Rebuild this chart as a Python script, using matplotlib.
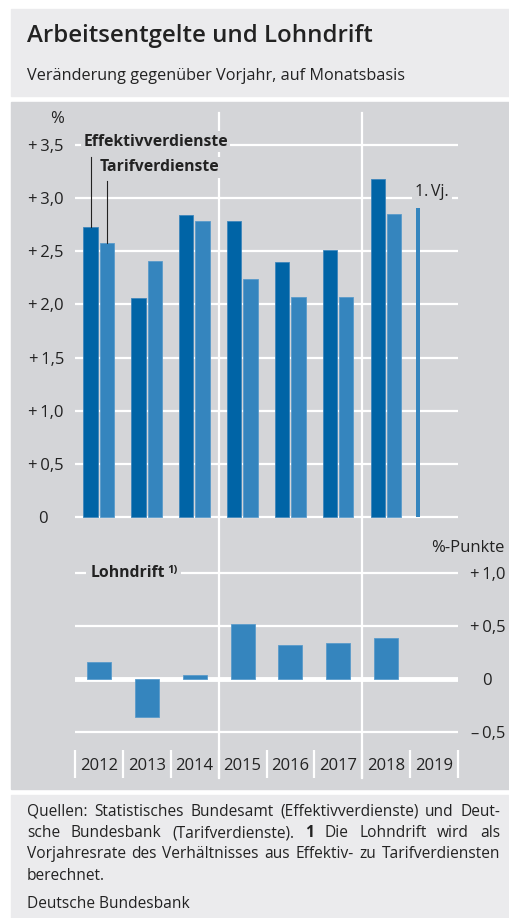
import numpy as np
import matplotlib
matplotlib.use('Agg')
import matplotlib.pyplot as plt
from matplotlib.patches import Rectangle
from matplotlib.lines import Line2D
from matplotlib import transforms

plt.rcParams['font.family'] = ['Open Sans', 'DejaVu Sans']

# Data
years = ['2012', '2013', '2014', '2015', '2016', '2017', '2018', '2019']
effektiv = [2.73, 2.06, 2.84, 2.78, 2.40, 2.51, 3.18]
tarif = [2.58, 2.41, 2.78, 2.24, 2.07, 2.07, 2.85]
tarif_2019_q1 = 2.91
lohndrift = [0.16, -0.35, 0.04, 0.52, 0.32, 0.34, 0.39]

upper_ticks = [0, 0.5, 1.0, 1.5, 2.0, 2.5, 3.0, 3.5]
upper_labels = ['0', '+\u20090,5', '+\u20091,0', '+\u20091,5', '+\u20092,0', '+\u20092,5', '+\u20093,0', '+\u20093,5']
lower_ticks = [-0.5, 0, 0.5, 1.0]
lower_labels = ['\u2013\u20090,5', '0', '+\u20090,5', '+\u20091,0']

c_eff = '#0064a6'
c_tar = '#3585be'
panel = '#d4d5d8'
light = '#ebebed'
text_c = '#222222'

W, H = 510, 918
fig = plt.figure(figsize=(W / 100, H / 100), dpi=100)
fig.patch.set_facecolor('white')


def fx(x):
    return x / W


def fy(y):
    return 1 - y / H


# background panels
fig.patches.append(Rectangle((fx(11), fy(96)), fx(W) - fx(11), fy(9) - fy(96),
                             transform=fig.transFigure, color=light, zorder=0))
fig.patches.append(Rectangle((fx(11), fy(789)), fx(W) - fx(11), fy(102) - fy(789),
                             transform=fig.transFigure, color=panel, zorder=0))
fig.patches.append(Rectangle((fx(11), fy(H)), fx(W) - fx(11), fy(795) - fy(H),
                             transform=fig.transFigure, color=light, zorder=0))

fig.text(fx(27), fy(36), 'Arbeitsentgelte und Lohndrift', fontsize=17.3,
         weight='semibold', color=text_c, va='center', ha='left')
fig.text(fx(27), fy(76), 'Veränderung gegenüber Vorjahr, auf Monatsbasis',
         fontsize=11.7, color=text_c, va='center', ha='left')

px = 106.3  # pixels per unit
x_idx = np.arange(len(years))

# Upper chart
ax1 = fig.add_axes([fx(75), fy(517 + 0.05 * px), fx(458) - fx(75), (3.65 * px) / H])
ax1.set_zorder(2)
ax1.set_xlim(-0.5, 7.5)
ax1.set_ylim(-0.05, 3.6)
ax1.patch.set_visible(False)
for s in ax1.spines.values():
    s.set_visible(False)
ax1.set_yticks(upper_ticks)
ax1.set_yticklabels(upper_labels)
ax1.set_xticks([])
ax1.tick_params(axis='y', length=0, pad=8, labelsize=12, labelcolor=text_c)
ax1.grid(axis='y', color='white', lw=1.6)
ax1.set_axisbelow(True)

ax1.bar(x_idx[:7] - 0.175, effektiv, width=0.30, color=c_eff, edgecolor='#3f86bb', lw=0.6, zorder=3)
ax1.bar(x_idx[:7] + 0.165, tarif, width=0.30, color=c_tar, edgecolor='#5a9bcb', lw=0.6, zorder=3)
ax1.bar(7 - 0.33, tarif_2019_q1, width=0.085, color=c_tar, lw=0, zorder=3)

zero_lbl = ax1.get_yticklabels()[0]
zero_lbl.set_transform(zero_lbl.get_transform() + transforms.ScaledTranslation(-16 / 100, 0, fig.dpi_scale_trans))

ax1.text(-0.175 - 0.15, 3.53, 'Effektivverdienste', fontsize=11.3, weight='bold', color=text_c,
         va='center', ha='left', zorder=5,
         bbox=dict(boxstyle='square,pad=0.15', fc=panel, ec='none'))
ax1.text(0.165 - 0.15, 3.29, 'Tarifverdienste', fontsize=11.3, weight='bold', color=text_c,
         va='center', ha='left', zorder=5,
         bbox=dict(boxstyle='square,pad=0.15', fc=panel, ec='none'))
ax1.plot([-0.175, -0.175], [3.39, effektiv[0]], color=text_c, lw=0.8, zorder=4)
ax1.plot([0.165, 0.165], [3.16, tarif[0]], color=text_c, lw=0.8, zorder=4)
ax1.text(6.6, 3.06, '1.\u2009Vj.', fontsize=11.5, color=text_c, va='center', ha='left', zorder=5,
         bbox=dict(boxstyle='square,pad=0.2', fc=panel, ec='none'))
ax1.text(-0.88, 3.74, '%', fontsize=12, color=text_c, va='center', ha='center', clip_on=False)

# Lower chart
lo_bottom, lo_top = -0.665, 1.05
ax2 = fig.add_axes([fx(75), fy(750), fx(458) - fx(75), ((lo_top - lo_bottom) * px) / H])
ax2.set_zorder(2)
ax2.set_xlim(-0.5, 7.5)
ax2.set_ylim(lo_bottom, lo_top)
ax2.patch.set_visible(False)
for s in ax2.spines.values():
    s.set_visible(False)
ax2.yaxis.tick_right()
ax2.set_yticks(lower_ticks)
ax2.set_yticklabels(lower_labels, ha='right')
ax2.tick_params(axis='y', length=0, pad=34, labelsize=12, labelcolor=text_c)
ax2.grid(axis='y', color='white', lw=1.6)
ax2.set_axisbelow(True)
ax2.axhline(0, color='white', lw=3.5, zorder=2)
zero_lbl2 = ax2.get_yticklabels()[1]
zero_lbl2.set_transform(zero_lbl2.get_transform() + transforms.ScaledTranslation(-13 / 100, 0, fig.dpi_scale_trans))

ax2.bar(x_idx[:7], lohndrift, width=0.5, color=c_tar, edgecolor='#5a9bcb', lw=0.6, zorder=3)

ax2.set_xticks(x_idx)
ax2.set_xticklabels(years)
ax2.set_xticks(np.arange(-0.5, 8, 1), minor=True)
ax2.tick_params(axis='x', which='major', length=0, pad=6, labelsize=12, labelcolor=text_c)
ax2.tick_params(axis='x', which='minor', length=20, width=1.6, color='white', direction='out')

lt = ax2.text(0.0 - 0.18, 1.0, 'Lohndrift', fontsize=11.3, weight='bold', color=text_c,
              va='center', ha='left', zorder=5,
              bbox=dict(boxstyle='square,pad=0.3', fc=panel, ec='none'))
ax2.annotate('1)', xy=(1, 1), xycoords=lt, xytext=(2, 0), textcoords='offset points',
             fontsize=8, weight='bold', color=text_c, va='top', ha='left', zorder=5,
             bbox=dict(boxstyle='square,pad=0.3', fc=panel, ec='none'))
fig.text(fx(505), fy(548), '%-Punkte', fontsize=12, color=text_c, va='center', ha='right')

# vertical separators between year groups
for xb in [2.5, 5.5]:
    tr = transforms.blended_transform_factory(ax1.transData, fig.transFigure)
    fig.lines.append(Line2D([xb, xb], [fy(113), fy(778)], transform=tr, color='white', lw=1.6, zorder=1))

# Footnote, justified
renderer = fig.canvas.get_renderer()
foot_lines = [
    [('Quellen:', 'normal'), ('Statistisches', 'normal'), ('Bundesamt', 'normal'),
     ('(Effektivverdienste)', 'normal'), ('und', 'normal'), ('Deut-', 'normal')],
    [('sche', 'normal'), ('Bundesbank', 'normal'), ('(Tarifverdienste).', 'normal'),
     ('1', 'bold'), ('Die', 'normal'), ('Lohndrift', 'normal'), ('wird', 'normal'), ('als', 'normal')],
    [('Vorjahresrate', 'normal'), ('des', 'normal'), ('Verhältnisses', 'normal'), ('aus', 'normal'),
     ('Effektiv-', 'normal'), ('zu', 'normal'), ('Tarifverdiensten', 'normal')],
]
foot_y = [812, 833, 854]
left, right = 27, 500
for words, yy in zip(foot_lines, foot_y):
    arts = [fig.text(0, fy(yy), w, fontsize=11.2, weight=wt, color=text_c, va='center', ha='left')
            for w, wt in words]
    widths = [a.get_window_extent(renderer).width for a in arts]
    gap = (right - left - sum(widths)) / (len(arts) - 1)
    x = left
    for a, wd in zip(arts, widths):
        a.set_x(fx(x))
        x += wd + gap
fig.text(fx(27), fy(876), 'berechnet.', fontsize=11.2, color=text_c, va='center', ha='left')
fig.text(fx(27), fy(904), 'Deutsche Bundesbank', fontsize=11.2, color=text_c, va='center', ha='left')

fig.savefig('out.png', dpi=100)
